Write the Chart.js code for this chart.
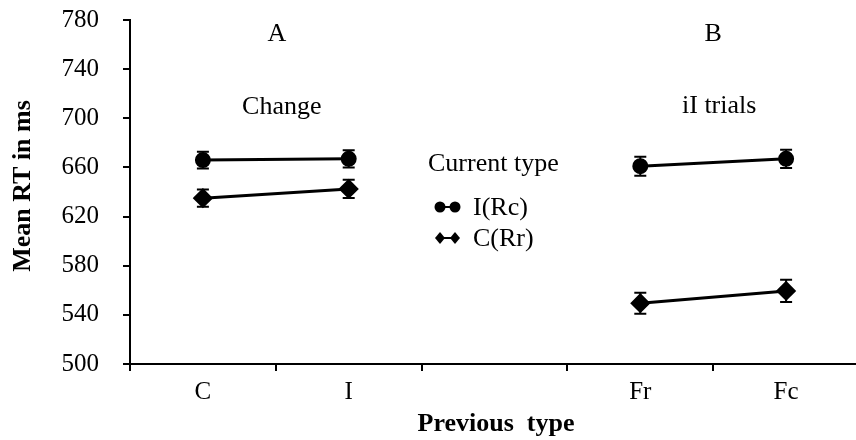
<!DOCTYPE html>
<html>
<head>
<meta charset="utf-8">
<script src="https://cdn.jsdelivr.net/npm/chart.js@4"></script>
<style>
  body { margin: 0; background: #fff; overflow: hidden; }
  #wrap { width: 870px; height: 440px; }
</style>
</head>
<body>
<div id="wrap"><canvas id="rtChart"></canvas></div>
<script>
// previous type categories (third slot is an empty spacer)
const categories = ['C', 'I', '', 'Fr', 'Fc']
// current type I(Rc) - circles
const incongruent = [666, 667, null, 661, 667]
const incongruentErr = [6.8, 7.0, null, 7.7, 7.4]
// current type C(Rr) - diamonds
const congruent = [635, 642.5, null, 549.5, 559.5]
const congruentErr = [7.0, 7.4, null, 8.5, 9.0]
const yTicks = [500, 540, 580, 620, 660, 700, 740, 780]

const serif = '"Liberation Serif", "Times New Roman", serif'
const errBars = [incongruentErr, congruentErr]

const errorBarPlugin = {
  id: 'errorBars',
  beforeDatasetsDraw(chart){
    const ctx = chart.ctx
    const x = chart.scales.x, y = chart.scales.y
    ctx.save()
    ctx.strokeStyle = '#000'
    ctx.lineWidth = 2
    chart.data.datasets.forEach((ds, i)=>{
      ds.data.forEach((v, j)=>{
        if(v === null) return
        const e = errBars[i][j]
        const px = x.getPixelForValue(j)
        const top = y.getPixelForValue(v + e), bot = y.getPixelForValue(v - e)
        ctx.beginPath()
        ctx.moveTo(px, top); ctx.lineTo(px, bot)
        ctx.moveTo(px - 6, top); ctx.lineTo(px + 6, top)
        ctx.moveTo(px - 6, bot); ctx.lineTo(px + 6, bot)
        ctx.stroke()
      })
    })
    ctx.restore()
  }
}

const textPlugin = {
  id: 'labels',
  afterDraw(chart){
    const ctx = chart.ctx
    const x = chart.scales.x
    ctx.save()
    ctx.fillStyle = '#000'
    ctx.textAlign = 'center'
    ctx.textBaseline = 'middle'
    ctx.font = '26px ' + serif
    const midA = (x.getPixelForValue(0) + x.getPixelForValue(1)) / 2
    const midB = (x.getPixelForValue(3) + x.getPixelForValue(4)) / 2
    ctx.fillText('A', midA + 1, 34)
    ctx.fillText('Change', midA + 6, 107)
    ctx.fillText('B', midB, 34)
    ctx.fillText('iI trials', midB + 6, 106)

    // legend
    ctx.textAlign = 'left'
    ctx.fillText('Current type', 428, 164)
    ctx.fillText('I(Rc)', 473, 208)
    ctx.fillText('C(Rr)', 473, 239)
    ctx.strokeStyle = '#000'
    ctx.lineWidth = 2
    ctx.beginPath()
    ctx.moveTo(440, 207); ctx.lineTo(455, 207)
    ctx.moveTo(440, 238); ctx.lineTo(455, 238)
    ctx.stroke()
    ;[440, 455].forEach(px=>{
      ctx.beginPath(); ctx.arc(px, 207, 5.5, 0, Math.PI * 2); ctx.fill()
      ctx.beginPath()
      ctx.moveTo(px, 232); ctx.lineTo(px + 5, 238); ctx.lineTo(px, 244); ctx.lineTo(px - 5, 238)
      ctx.closePath(); ctx.fill()
    })

    // axis titles
    ctx.font = 'bold 26px ' + serif
    ctx.textAlign = 'center'
    ctx.fillText('Previous  type', 496, 424)
    ctx.translate(23, 186)
    ctx.rotate(-Math.PI / 2)
    ctx.fillText('Mean RT in ms', 0, 0)
    ctx.restore()
  }
}

window.onload = ()=>{
  const ctx = document.getElementById('rtChart').getContext('2d')
  new Chart(ctx, {
    type: 'line',
    data: {
      labels: categories,
      datasets: [
        {
          label: 'I(Rc)',
          data: incongruent,
          borderColor: '#000',
          backgroundColor: '#000',
          borderWidth: 3,
          pointStyle: 'circle',
          pointRadius: 6.5,
          spanGaps: false
        },
        {
          label: 'C(Rr)',
          data: congruent,
          borderColor: '#000',
          backgroundColor: '#000',
          borderWidth: 3,
          pointStyle: 'rectRot',
          pointRadius: 8,
          spanGaps: false
        }
      ]
    },
    options: {
      responsive: true,
      maintainAspectRatio: false,
      animation: false,
      layout: { padding: { top: 20, right: 7, left: 0, bottom: 0 } },
      plugins: { legend: { display: false }, tooltip: { enabled: false } },
      scales: {
        x: {
          offset: true,
          grid: { offset: true, drawOnChartArea: false, color: '#000', lineWidth: 2, tickLength: 7 },
          border: { color: '#000', width: 2 },
          ticks: { color: '#000', font: { family: serif, size: 25 }, padding: 6, maxRotation: 0 },
          afterFit(scale){ scale.height = 76; scale.paddingLeft = 0; scale.paddingRight = 0 }
        },
        y: {
          min: 500,
          max: 780,
          afterBuildTicks(scale){ scale.ticks = yTicks.map(v=>({ value: v })) },
          grid: { drawOnChartArea: false, color: '#000', lineWidth: 2, tickLength: 7 },
          border: { color: '#000', width: 2 },
          ticks: { color: '#000', font: { family: serif, size: 25 }, padding: 24 },
          afterFit(scale){ scale.width = 130; scale.paddingTop = 0; scale.paddingBottom = 0 }
        }
      }
    },
    plugins: [errorBarPlugin, textPlugin]
  })
}
</script>
</body>
</html>
